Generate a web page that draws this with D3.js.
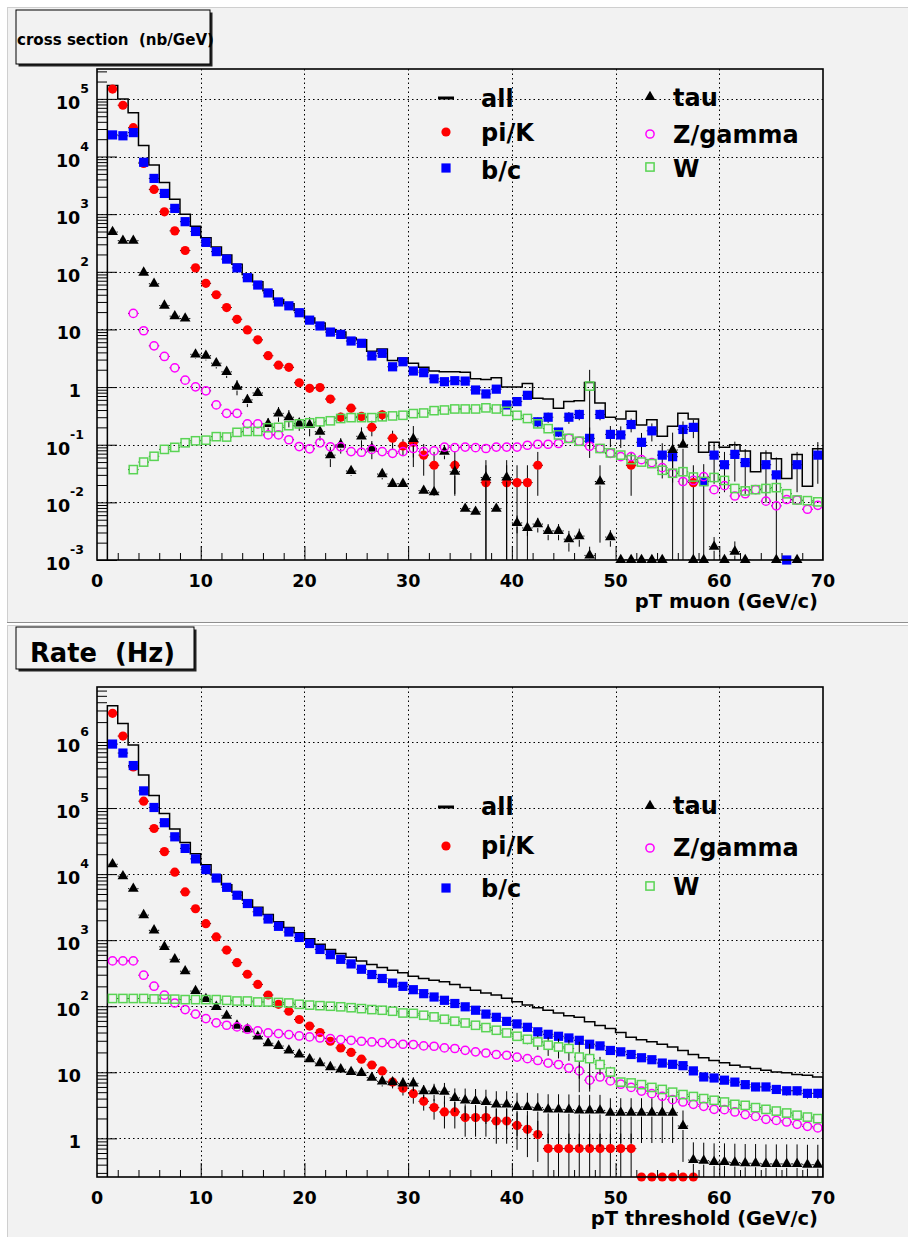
<!DOCTYPE html>
<html>
<head>
<meta charset="utf-8">
<script src="https://cdn.jsdelivr.net/npm/d3@7"></script>
<style>
body { margin: 0; background: #fff; }
svg text { font-family: "DejaVu Sans", sans-serif; font-weight: bold; fill: #000; white-space: pre; }
</style>
</head>
<body>
<svg width="908" height="1237"></svg>
<script>
// bin centres, 1 GeV bins from 1 to 70 GeV
var ptBins = [1.5, 2.5, 3.5, 4.5, 5.5, 6.5, 7.5, 8.5, 9.5, 10.5, 11.5, 12.5, 13.5, 14.5, 15.5, 16.5, 17.5, 18.5, 19.5, 20.5,
  21.5, 22.5, 23.5, 24.5, 25.5, 26.5, 27.5, 28.5, 29.5, 30.5, 31.5, 32.5, 33.5, 34.5, 35.5, 36.5, 37.5, 38.5, 39.5, 40.5,
  41.5, 42.5, 43.5, 44.5, 45.5, 46.5, 47.5, 48.5, 49.5, 50.5, 51.5, 52.5, 53.5, 54.5, 55.5, 56.5, 57.5, 58.5, 59.5, 60.5,
  61.5, 62.5, 63.5, 64.5, 65.5, 66.5, 67.5, 68.5, 69.5];

var seriesNames = ["all", "pi/K", "b/c", "tau", "Z/gamma", "W"];

// ---- top: cross section (nb/GeV) ----
var allTop = [170000, 100000, 57500, 15500, 7160, 3550, 1820, 1000, 620, 390,
  270, 195, 135, 90, 67, 47, 33, 28, 21.4, 15.8,
  13, 10, 9.0, 7.1, 6.6, 4.2, 4.6, 2.9, 3.2, 2.6,
  2.2, 1.9, 1.85, 1.85, 1.8, 1.4, 1.35, 1.45, 1.0, 1.0,
  1.15, 0.64, 0.62, 0.43, 0.56, 0.58, 1.2, 0.53, 0.30, 0.28,
  0.38, 0.22, 0.27, 0.14, 0.21, 0.35, 0.28, 0.074, 0.11, 0.09,
  0.10, 0.078, 0.034, 0.072, 0.057, 0.026, 0.068, 0.019, 0.085];
var piKTop = [148000, 77600, 31600, 7600, 2690, 1100, 513, 234, 117, 63,
  40, 24, 15, 9.8, 6.6, 3.5, 2.4, 2.2, 1.19, 0.95,
  0.98, 0.62, 0.30, 0.43, 0.31, 0.20, 0.33, 0.13, 0.095, 0.11,
  0.066, 0.044, null, 0.044, null, null, 0.022, null, 0.022, 0.022,
  0.022, 0.044, null, null, null, null, null, null, null, null,
  0.044, null, null, null, null, null, 0.022, null, null, null,
  null, null, null, null, null, null, null, null, null];
var bcTop = [23700, 22900, 26000, 7940, 4170, 2290, 1260, 741, 501, 324,
  224, 166, 117, 79, 59, 43, 30, 25.7, 19.5, 14.5,
  11.5, 9.0, 8.2, 6.3, 5.75, 3.47, 3.85, 2.25, 2.75, 1.9,
  1.78, 1.39, 1.24, 1.29, 1.27, 0.89, 0.76, 0.92, 0.49, 0.56,
  0.72, 0.25, 0.30, 0.166, 0.30, 0.335, 0.129, 0.335, 0.151, 0.148,
  0.224, 0.11, 0.174, 0.066, 0.062, 0.184, 0.20, 0.023, 0.066, 0.045,
  0.068, 0.049, null, 0.045, 0.030, 0.0008, 0.045, null, 0.066];
var tauTop = [490, 347, 347, 97, 62, 26, 17, 15.5, 3.7, 3.5,
  2.6, 1.84, 1.02, 0.60, 0.79, 0.23, 0.35, 0.30, 0.234, 0.22,
  0.168, 0.066, 0.10, 0.035, 0.14, 0.086, 0.031, 0.021, 0.021, 0.126,
  0.016, 0.015, 0.076, 0.034, 0.0078, 0.0069, 0.027, 0.0078, 0.027, 0.0044,
  0.0036, 0.0042, 0.0032, 0.0032, 0.0023, 0.0026, 0.0012, 0.023, 0.0025, 0.0008,
  0.0008, 0.0008, 0.0008, 0.0008, 0.081, 0.10, 0.0008, 0.0008, 0.0017, 0.0008,
  0.0014, 0.0008, null, null, 0.0008, null, 0.0008, null, null];
var zTop = [null, null, 19, 9.5, 5.2, 3.4, 2.16, 1.32, 1.01, 0.86,
  0.49, 0.35, 0.35, 0.23, 0.23, 0.148, 0.148, 0.122, 0.093, 0.085,
  0.108, 0.092, 0.092, 0.076, 0.074, 0.083, 0.076, 0.071, 0.076, 0.086,
  0.076, 0.078, 0.091, 0.089, 0.091, 0.089, 0.086, 0.091, 0.091, 0.091,
  0.098, 0.102, 0.102, 0.105, 0.129, 0.115, 0.094, 0.086, 0.071, 0.062,
  0.062, 0.055, 0.049, 0.040, 0.032, 0.023, 0.024, 0.028, 0.0166, 0.0195,
  0.0129, 0.0141, 0.0166, 0.0105, 0.0087, 0.0112, 0.011, 0.0076, 0.0089];
var wTop = [null, null, 0.037, 0.050, 0.063, 0.083, 0.090, 0.108, 0.117, 0.120,
  0.138, 0.136, 0.164, 0.17, 0.17, 0.197, 0.20, 0.214, 0.23, 0.24,
  0.25, 0.26, 0.285, 0.295, 0.295, 0.295, 0.305, 0.316, 0.324, 0.347,
  0.355, 0.39, 0.40, 0.417, 0.417, 0.417, 0.436, 0.417, 0.38, 0.324,
  0.285, 0.23, 0.19, 0.148, 0.129, 0.115, 1.04, 0.086, 0.072, 0.066,
  0.055, 0.050, 0.047, 0.036, 0.032, 0.034, 0.0275, 0.023, 0.027, 0.024,
  0.0174, 0.0158, 0.0166, 0.0174, 0.018, 0.0141, 0.011, 0.0107, 0.0102];

// visible error bars, [bin number, half width]
var piKErrTop = [[19, 0.15], [20, 0.12], [21, 0.12], [22, 0.1], [23, 0.06], [24, 0.07], [25, 0.06], [26, 0.06], [27, 0.07],
  [28, 0.045], [29, 0.03], [30, 0.05], [31, 0.037], [32, 0.031], [34, 0.031], [37, 0.022], [39, 0.022], [40, 0.022],
  [41, 0.022], [42, 0.031], [51, 0.031], [57, 0.022]];
var bcErrTop = [[36, 0.08], [37, 0.08], [38, 0.08], [39, 0.06], [40, 0.07], [41, 0.08], [42, 0.05], [43, 0.06], [44, 0.03],
  [45, 0.07], [46, 0.07], [47, 0.07], [48, 0.07], [49, 0.06], [50, 0.06], [51, 0.06], [52, 0.05], [53, 0.06], [54, 0.04],
  [55, 0.04], [56, 0.07], [57, 0.07], [58, 0.023], [59, 0.045], [60, 0.03], [61, 0.045], [62, 0.035], [64, 0.035],
  [65, 0.03], [67, 0.03], [69, 0.045]];
var tauErrTop = [[9, 0.6], [10, 0.6], [11, 0.5], [12, 0.4], [13, 0.3], [14, 0.15], [15, 0.12], [16, 0.06], [17, 0.1],
  [18, 0.1], [19, 0.06], [20, 0.08], [21, 0.05], [22, 0.025], [23, 0.03], [24, 0.006], [25, 0.06], [26, 0.03], [27, 0.006],
  [30, 0.085], [33, 0.02], [34, 0.02], [37, 0.027], [39, 0.027], [40, 0.0015], [41, 0.001], [42, 0.0012], [43, 0.001],
  [44, 0.001], [45, 0.0009], [46, 0.0009], [47, 0.0005], [48, 0.021], [49, 0.0008], [55, 0.081], [56, 0.1], [59, 0.0008],
  [61, 0.0007]];
var zErrTop = [];
var wErrTop = [[47, 0.95]];

// ---- bottom: rate (Hz) above threshold ----
var allBot = [3.55e6, 1.9e6, 9.0e5, 3.16e5, 1.55e5, 8.3e4, 4.8e4, 3.0e4, 2.04e4, 1.38e4,
  9660, 6920, 5370, 4070, 3160, 2450, 1900, 1550, 1290, 1050,
  870, 725, 630, 550, 484, 427, 385, 350, 320, 285,
  263, 248, 234, 214, 192, 174, 158, 148, 132, 117,
  104, 95, 87, 79, 72, 68, 58, 51, 46, 40,
  34, 31, 29, 26.5, 24.2, 21.4, 18.6, 16.6, 15.1, 14.0,
  12.8, 12.0, 11.4, 10.7, 10.1, 9.8, 9.3, 9.0, 8.5];
var piKBot = [2.72e6, 1.23e6, 4.2e5, 1.27e5, 4.9e4, 2.19e4, 1.07e4, 5370, 2990, 1780,
  1120, 708, 457, 305, 214, 148, 107, 84, 63, 50,
  40, 29.5, 23.4, 20, 15.8, 12.9, 10.5, 7.1, 5.75, 4.75,
  3.63, 2.92, 2.51, 2.51, 2.06, 2.06, 2.06, 1.83, 1.83, 1.57,
  1.37, 1.14, 0.70, 0.70, 0.70, 0.70, 0.70, 0.70, 0.70, 0.70,
  0.70, 0.2, 0.2, 0.2, 0.2, 0.2, 0.2, null, null, null,
  null, null, null, null, null, null, null, null, null];
var bcBot = [9.3e5, 6.8e5, 4.4e5, 1.82e5, 1.02e5, 6.0e4, 3.67e4, 2.45e4, 1.70e4, 1.17e4,
  8710, 6310, 4790, 3590, 2690, 2090, 1620, 1330, 1100, 890,
  724, 603, 513, 437, 363, 302, 263, 224, 200, 178,
  155, 138, 123, 110, 98, 87, 76, 68, 59, 54,
  48, 41, 37.6, 35.1, 33.1, 30.5, 26.6, 25.1, 21.4, 20.4,
  18.6, 16.6, 15.5, 13.8, 13.2, 12.6, 10.5, 8.5, 8.2, 7.6,
  7.1, 6.5, 6.0, 6.0, 5.5, 5.25, 5.25, 4.8, 4.8];
var tauBot = [14100, 9330, 6030, 2400, 1410, 794, 513, 339, 170, 129,
  98, 72, 51, 45, 35, 27.5, 25, 21.4, 18.6, 15.8,
  13.8, 12.0, 11.1, 10.1, 9.8, 8.3, 7.3, 7.1, 6.8, 6.8,
  5.2, 5.2, 5.1, 4.1, 3.77, 3.68, 3.55, 3.27, 3.27, 2.99,
  2.99, 2.92, 2.75, 2.75, 2.72, 2.65, 2.65, 2.65, 2.45, 2.45,
  2.45, 2.45, 2.45, 2.45, 2.45, 1.54, 0.47, 0.46, 0.44, 0.44,
  0.43, 0.42, 0.42, 0.41, 0.41, 0.41, 0.41, 0.40, 0.40];
var zBot = [486, 486, 486, 295, 201, 147, 112, 89, 76, 65,
  56, 51.5, 48.6, 44.9, 42.3, 39.4, 38.5, 37.2, 35.5, 34.3,
  33.1, 32.4, 31.3, 30.5, 29.5, 28.8, 28.2, 27.2, 26.6, 26.3,
  25.1, 24.8, 23.4, 22.9, 21.5, 20.4, 19.6, 18.6, 18.1, 17.0,
  16.1, 15.1, 13.8, 13.1, 11.6, 10.5, 7.6, 8.5, 7.4, 6.6,
  5.9, 5.2, 4.75, 4.33, 3.85, 3.55, 3.27, 3.05, 2.75, 2.72,
  2.51, 2.29, 2.15, 1.94, 1.87, 1.77, 1.63, 1.52, 1.44];
var wBot = [131, 131, 131, 131, 129, 128, 128, 126, 126, 126,
  126, 123, 120, 120, 116, 116, 114, 112, 107, 104,
  102, 100, 98, 95, 92, 89, 87, 84, 79, 78,
  73, 69, 63.5, 59.3, 55.8, 51.5, 47.5, 43.3, 39.4, 35.1,
  31.6, 28.8, 25.7, 24.2, 22.9, 17.0, 16.1, 13.1, 10.1, 7.1,
  6.9, 6.5, 5.9, 5.5, 5.0, 4.6, 4.3, 4.0, 3.77, 3.55,
  3.27, 3.16, 2.92, 2.75, 2.59, 2.42, 2.24, 2.10, 1.99];

var piKErrBot = [[28, 1.0], [29, 1.3], [30, 1.4], [31, 1.0], [32, 1.0], [33, 1.1], [34, 1.1], [35, 1.0], [36, 1.0],
  [37, 1.0], [38, 1.0], [39, 1.0], [40, 0.9], [41, 0.85], [42, 0.7], [43, 0.48], [44, 0.48], [45, 0.48], [46, 0.48],
  [47, 0.48], [48, 0.48], [49, 0.48], [50, 0.48], [51, 0.48]];
var bcErrBot = [[40, 2], [41, 2], [42, 2], [43, 2], [44, 2], [45, 2], [46, 2], [47, 2], [48, 2], [49, 1.5], [50, 1.5],
  [51, 1.2], [52, 1.2], [53, 1.2], [54, 1.2], [55, 1.2], [56, 1.2], [57, 1], [58, 0.8], [59, 0.8], [60, 0.8], [61, 0.8],
  [62, 0.8], [63, 0.8], [64, 0.8], [65, 0.8], [66, 0.8], [67, 0.8], [68, 0.8], [69, 0.8]];
var tauErrBot = [[24, 0.8], [25, 0.9], [26, 1.0], [27, 1.2], [28, 1.4], [29, 1.5], [30, 1.6], [31, 1.2], [32, 1.5],
  [33, 1.8], [34, 1.6], [35, 1.9], [36, 1.9], [37, 1.9], [38, 1.9], [39, 1.9], [40, 1.9], [41, 1.9], [42, 1.9], [43, 1.9],
  [44, 1.9], [45, 1.9], [46, 1.9], [47, 1.9], [48, 1.9], [49, 1.6], [50, 1.6], [51, 1.6], [52, 1.6], [53, 1.6], [54, 1.6],
  [55, 1.6], [56, 1.1], [57, 0.4], [58, 0.4], [59, 0.4], [60, 0.4], [61, 0.4], [62, 0.4], [63, 0.4], [64, 0.4], [65, 0.4],
  [66, 0.4], [67, 0.4], [68, 0.4], [69, 0.4]];
var zErrBot = [[45, 1], [46, 2.5], [47, 2], [48, 1]];
var wErrBot = [[40, 5], [41, 5], [42, 7], [43, 8], [44, 8], [45, 8], [46, 12], [47, 11], [48, 4], [49, 2], [50, 1]];

var svg = d3.select("svg");
var x = d3.scaleLinear().domain([0, 70]).range([97, 823]);
var padFill = "#f2f2f2";
var markGap = 4; // error lines stop at the marker edge

// pads
function pad(y0, y1) {
  svg.append("rect").attr("x", 7).attr("y", y0).attr("width", 901).attr("height", y1 - y0).attr("fill", padFill);
  svg.append("line").attr("x1", 7).attr("x2", 908).attr("y1", y0 + 0.5).attr("y2", y0 + 0.5).attr("stroke", "#cfcfcf");
  svg.append("line").attr("x1", 7.5).attr("x2", 7.5).attr("y1", y0).attr("y2", y1).attr("stroke", "#cfcfcf");
  svg.append("line").attr("x1", 7).attr("x2", 908).attr("y1", y1 - 0.5).attr("y2", y1 - 0.5).attr("stroke", "#8f8f8f");
}
pad(7, 623);
pad(625, 1240);

function titleBox(x0, y0, w, h, label, size, tx, ty, tlen) {
  svg.append("rect").attr("x", x0 + 2.5).attr("y", y0 + 2.5).attr("width", w).attr("height", h).attr("fill", "#222");
  svg.append("rect").attr("x", x0).attr("y", y0).attr("width", w).attr("height", h)
    .attr("fill", padFill).attr("stroke", "#000").attr("stroke-width", 1);
  svg.append("text").attr("x", tx).attr("y", ty).style("font-size", size + "px")
    .attr("textLength", tlen).attr("lengthAdjust", "spacingAndGlyphs").text(label);
}

function errMap(list) {
  var m = {};
  list.forEach(function(d) { m[d[0] - 1] = d[1]; });
  return m;
}

function marker(g, shape, cx, cy) {
  if (shape == "circle") {
    g.append("circle").attr("cx", cx).attr("cy", cy).attr("r", 4.6).attr("fill", "#ff0000");
  } else if (shape == "square") {
    g.append("rect").attr("x", cx - 4.6).attr("y", cy - 4.6).attr("width", 9.2).attr("height", 9.2).attr("fill", "#0000ff");
  } else if (shape == "triangle") {
    g.append("path").attr("transform", "translate(" + cx + "," + cy + ")")
      .attr("d", d3.symbol().type(d3.symbolTriangle).size(50)()).attr("fill", "#000");
  } else if (shape == "ocircle") {
    g.append("circle").attr("cx", cx).attr("cy", cy).attr("r", 4.1)
      .attr("fill", "none").attr("stroke", "#ff00ff").attr("stroke-width", 1.5);
  } else if (shape == "osquare") {
    g.append("rect").attr("x", cx - 4.1).attr("y", cy - 4.1).attr("width", 8.2).attr("height", 8.2)
      .attr("fill", "none").attr("stroke", "#59d454").attr("stroke-width", 1.5);
  }
}

function seg(g, x1, y1, x2, y2) {
  g.append("line").attr("x1", x1).attr("x2", x2).attr("y1", y1).attr("y2", y2)
    .attr("stroke", "#000").attr("stroke-width", 1);
}

function drawPanel(p) {
  var y = d3.scaleLog().domain([p.ymin, p.ymax]).range([p.bottom, p.top]);
  var g = svg.append("g");
  var clipId = "clip" + p.id;
  svg.append("clipPath").attr("id", clipId).append("rect")
    .attr("x", 97).attr("y", p.top).attr("width", 726).attr("height", p.bottom - p.top);

  // dotted grid
  g.selectAll(".gx").data([10, 20, 30, 40, 50, 60]).enter().append("line")
    .attr("x1", function(d) { return Math.round(x(d)) + 0.5; }).attr("x2", function(d) { return Math.round(x(d)) + 0.5; })
    .attr("y1", p.top).attr("y2", p.bottom)
    .attr("stroke", "#000").attr("stroke-width", 1).attr("stroke-dasharray", "1.5,3");
  g.selectAll(".gy").data(p.decades.filter(function(d) { return d > p.ymin; })).enter().append("line")
    .attr("x1", 97).attr("x2", 823)
    .attr("y1", function(d) { return Math.round(y(d)) + 0.5; }).attr("y2", function(d) { return Math.round(y(d)) + 0.5; })
    .attr("stroke", "#000").attr("stroke-width", 1).attr("stroke-dasharray", "1.5,3");

  // ticks, drawn inside the frame
  var minorX = d3.range(0, 71, 2).filter(function(d) { return d % 10 != 0; });
  g.append("g").attr("transform", "translate(0," + p.bottom + ")")
    .call(d3.axisBottom(x).tickValues(minorX).tickSize(-7).tickSizeOuter(0).tickFormat(""));
  g.append("g").attr("transform", "translate(0," + p.bottom + ")")
    .call(d3.axisBottom(x).tickValues([10, 20, 30, 40, 50, 60]).tickSize(-14).tickSizeOuter(0).tickFormat(""));
  var minorY = y.ticks(10).filter(function(d) {
    var l = Math.log10(d);
    return Math.abs(l - Math.round(l)) > 1e-6;
  });
  g.append("g").attr("transform", "translate(97,0)")
    .call(d3.axisLeft(y).tickValues(minorY).tickSize(-10).tickSizeOuter(0).tickFormat(""));
  g.append("g").attr("transform", "translate(97,0)")
    .call(d3.axisLeft(y).tickValues(p.decades).tickSize(-20).tickSizeOuter(0).tickFormat(""));
  g.selectAll(".domain").remove();
  g.selectAll(".tick line").attr("stroke", "#000").attr("stroke-width", 1);

  // x labels
  g.selectAll(".xl").data([0, 10, 20, 30, 40, 50, 60, 70]).enter().append("text")
    .attr("x", function(d) { return x(d); }).attr("y", p.bottom + 27)
    .attr("text-anchor", "middle").style("font-size", "17.5px")
    .text(function(d) { return d; });
  g.append("text").attr("x", 818).attr("y", p.xTitleY).attr("text-anchor", "end")
    .style("font-size", "19.5px").text(p.xTitle);

  // y labels with exponents
  p.decades.forEach(function(d) {
    var e = Math.round(Math.log10(d));
    var yy = y(d);
    if (e == 0 || e == 1) {
      g.append("text").attr("x", 81).attr("y", yy + 10).attr("text-anchor", "end")
        .style("font-size", "17.5px").text(e == 0 ? "1" : "10");
    } else {
      var t = g.append("text").attr("x", e < 0 ? 84 : 89).attr("y", yy + 10).attr("text-anchor", "end")
        .style("font-size", "17.5px");
      t.append("tspan").text("10");
      t.append("tspan").attr("dy", -16).style("font-size", "12.5px").text(e);
    }
  });

  // histogram "all"
  var pts = [[1, p.ymin]];
  p.all.forEach(function(v, i) {
    pts.push([ptBins[i] - 0.5, v]);
    pts.push([ptBins[i] + 0.5, v]);
  });
  pts.push([70, p.ymin]);
  g.append("path")
    .attr("clip-path", "url(#" + clipId + ")")
    .attr("d", d3.line().x(function(d) { return x(d[0]); }).y(function(d) { return y(Math.max(d[1], p.ymin)); })(pts))
    .attr("fill", "none").attr("stroke", "#000").attr("stroke-width", 1.5);

  // point series with error bars
  p.series.forEach(function(s) {
    var sg = g.append("g");
    var eg = sg.append("g").attr("clip-path", "url(#" + clipId + ")");
    var em = errMap(s.err);
    s.vals.forEach(function(v, i) {
      if (v == null) return;
      var cx = x(ptBins[i]);
      var cy = y(Math.max(v, p.ymin));
      seg(eg, x(ptBins[i] - 0.5), cy, cx - markGap, cy);
      seg(eg, cx + markGap, cy, x(ptBins[i] + 0.5), cy);
      var e = em[i];
      if (e) {
        var lo = v - e > p.ymin ? y(v - e) : p.bottom + 2;
        var hi = y(v + e);
        if (lo > cy + markGap) seg(eg, cx, cy + markGap, cx, lo);
        if (hi < cy - markGap) seg(eg, cx, cy - markGap, cx, hi);
      }
    });
    s.vals.forEach(function(v, i) {
      if (v == null) return;
      marker(sg, s.shape, x(ptBins[i]), y(Math.max(v, p.ymin)));
    });
  });

  // frame
  g.append("rect").attr("x", 97).attr("y", p.top).attr("width", 726).attr("height", p.bottom - p.top)
    .attr("fill", "none").attr("stroke", "#000").attr("stroke-width", 1.6);

  // legend
  var shapes = ["line", "circle", "square", "triangle", "ocircle", "osquare"];
  seriesNames.forEach(function(name, i) {
    var col = i < 3 ? 0 : 1, row = i % 3;
    var mx = col == 0 ? 446 : 650;
    var my = p.legMarkY[col][row];
    if (shapes[i] == "line") {
      g.append("line").attr("x1", 438).attr("x2", 454).attr("y1", my).attr("y2", my)
        .attr("stroke", "#000").attr("stroke-width", 3);
    } else {
      marker(g, shapes[i], mx, my);
    }
    g.append("text").attr("x", col == 0 ? 481 : 673).attr("y", p.legTextY[col][row])
      .style("font-size", "24px").text(name);
  });
}

drawPanel({
  id: "top", top: 69, bottom: 560, ymin: 1e-3, ymax: 3.3e5,
  decades: [1e-3, 1e-2, 1e-1, 1, 10, 1e2, 1e3, 1e4, 1e5],
  xTitle: "pT muon (GeV/c)", xTitleY: 608,
  all: allTop,
  series: [
    {vals: piKTop, err: piKErrTop, shape: "circle"},
    {vals: bcTop, err: bcErrTop, shape: "square"},
    {vals: tauTop, err: tauErrTop, shape: "triangle"},
    {vals: zTop, err: zErrTop, shape: "ocircle"},
    {vals: wTop, err: wErrTop, shape: "osquare"}
  ],
  legMarkY: [[98, 132, 168], [97, 134, 167]],
  legTextY: [[106.5, 140.5, 179], [105.5, 142.5, 177]]
});

drawPanel({
  id: "bot", top: 687, bottom: 1177, ymin: 0.26, ymax: 6.8e6,
  decades: [1, 10, 1e2, 1e3, 1e4, 1e5, 1e6],
  xTitle: "pT threshold (GeV/c)", xTitleY: 1225,
  all: allBot,
  series: [
    {vals: piKBot, err: piKErrBot, shape: "circle"},
    {vals: bcBot, err: bcErrBot, shape: "square"},
    {vals: tauBot, err: tauErrBot, shape: "triangle"},
    {vals: zBot, err: zErrBot, shape: "ocircle"},
    {vals: wBot, err: wErrBot, shape: "osquare"}
  ],
  legMarkY: [[807, 846, 888], [806, 848, 886]],
  legTextY: [[815, 854, 897], [814, 856, 895]]
});

titleBox(16, 10, 194, 54, "cross section  (nb/GeV)", 15, 17, 45, 197);
titleBox(16, 627, 178, 42, "Rate  (Hz)", 27, 30, 662, 145);
</script>
</body>
</html>
